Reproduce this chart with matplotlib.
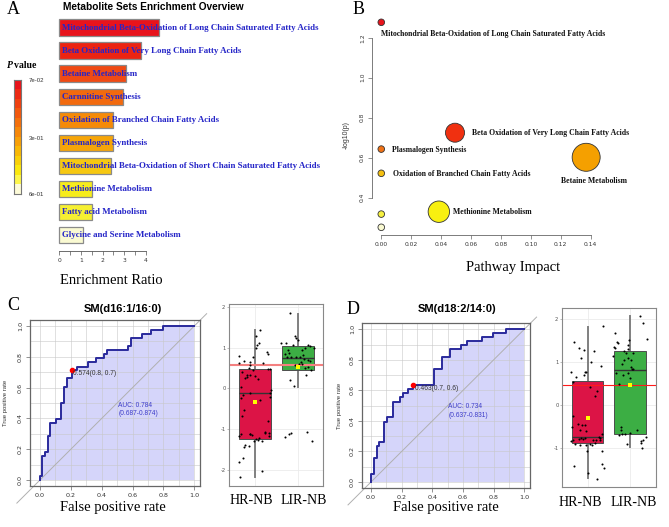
import numpy as np
import matplotlib
matplotlib.use("Agg")
import matplotlib.pyplot as plt
from matplotlib.colors import ListedColormap

SERIF = "Liberation Serif"
SANS = "Liberation Sans"

# ---- panel A: enrichment overview ----
pathways_A = [
    "Mitochondrial Beta-Oxidation of Long Chain Saturated Fatty Acids",
    "Beta Oxidation of Very Long Chain Fatty Acids",
    "Betaine Metabolism",
    "Carnnitine Synthesis",
    "Oxidation of Branched Chain Fatty Acids",
    "Plasmalogen Synthesis",
    "Mitochondrial Beta-Oxidation of Short Chain Saturated Fatty Acids",
    "Methionine Metabolism",
    "Fatty acid Metabolism",
    "Glycine and Serine Metabolism",
]
enrich_ratio = [4.58, 3.77, 3.06, 2.92, 2.46, 2.46, 2.38, 1.50, 1.50, 1.09]
bar_colors = ["#e8141c", "#ec2412", "#f04a14", "#f26a0e", "#f58a08", "#f6a508",
              "#f6c812", "#f6ec1c", "#f6f032", "#fafad2"]
cbar_colors = ["#e8141c", "#ec2a14", "#ef4010", "#f2580e", "#f4700c", "#f6880a",
               "#f7a008", "#f8b806", "#f9d008", "#fbe80e", "#fdf64a", "#fdfbd8"]
cbar_labels = ["7e-02", "3e-01", "6e-01"]

# ---- panel B: pathway impact ----
impact = [0.0, 0.0493, 0.0, 0.0, 0.137, 0.0385, 0.0, 0.0]
neglogp = [1.277, 0.725, 0.643, 0.522, 0.602, 0.330, 0.318, 0.252]
labels_B = ["Mitochondrial Beta-Oxidation of Long Chain Saturated Fatty Acids",
            "Beta Oxidation of Very Long Chain Fatty Acids",
            "Plasmalogen Synthesis",
            "Oxidation of Branched Chain Fatty Acids",
            "Betaine Metabolism",
            "Methionine Metabolism", "", ""]
colors_B = ["#e8141c", "#f03010", "#f07216", "#f5c010", "#f5a000", "#f8f010",
            "#f6f040", "#fafad2"]
radius_B = [3.3, 9.5, 3.3, 3.3, 14.0, 10.7, 3.3, 3.3]     # px
# label offsets (px): dx, dy(up), ha
lab_off_B = [(-0.6, -12, "left"), (17, 0, "left"), (10.7, -1, "left"),
             (11.7, -0.7, "left"), (8, -24, "center"), (14.3, 0, "left"),
             (0, 0, "left"), (0, 0, "left")]

# ---- panel C / D: ROC curves (step corners: fpr, tpr) ----
fpr_C = [0, 0, 0.015, 0.032, 0.054, 0.067, 0.104, 0.136, 0.153, 0.173, 0.205,
         0.242, 0.309, 0.363, 0.417, 0.436, 0.572, 0.587, 0.659, 0.717, 0.799, 1.0]
tpr_C = [0, 0.028, 0.158, 0.184, 0.288, 0.368, 0.394, 0.502, 0.606, 0.660, 0.714,
         0.736, 0.764, 0.790, 0.816, 0.844, 0.870, 0.920, 0.948, 0.974, 1.0, 1.0]
fpr_D = [0, 0, 0.020, 0.037, 0.054, 0.087, 0.104, 0.141, 0.191, 0.211, 0.243,
         0.272, 0.413, 0.465, 0.515, 0.587, 0.624, 0.722, 0.798, 0.878, 1.0]
tpr_D = [0, 0.052, 0.159, 0.238, 0.264, 0.395, 0.428, 0.526, 0.555, 0.581, 0.609,
         0.635, 0.740, 0.817, 0.871, 0.897, 0.926, 0.952, 0.978, 1.0, 1.0]
best_C = (0.205, 0.714, "0.574(0.8, 0.7)")
best_D = (0.276, 0.635, "0.463(0.7, 0.6)")
auc_C = "AUC: 0.784\n(0.687-0.874)"
auc_D = "AUC: 0.734\n(0.637-0.831)"

# ---- box plots ----
groups = ["HR-NB", "LIR-NB"]
box_C = dict(q1=[-1.24, 0.45], med=[-0.12, 0.75], q3=[0.48, 1.03],
             lo=[-2.17, 0.04], hi=[1.42, 1.83], mean=[-0.34, 0.53], cut=0.57)
box_D = dict(q1=[-0.89, -0.67], med=[-0.75, 0.81], q3=[0.55, 1.26],
             lo=[-1.70, -0.98], hi=[1.82, 2.07], mean=[-0.30, 0.47], cut=0.46)

c_hr_jit = [0.13, 0.03, 0.10, 0.05, 0.02, 0.28, 0.31, -0.37, -0.04, -0.25, -0.12, -0.36,
            0.19, -0.10, -0.14, 0.35, 0.32, -0.05, -0.30, -0.17, -0.10, 0.00, -0.18, -0.23,
            0.07, -0.33, -0.28, 0.35, -0.10, 0.36, -0.32, -0.25, -0.30, 0.30, 0.25, 0.33,
            -0.36, -0.33, -0.10, -0.06, -0.12, 0.23, 0.34, 0.04, 0.08, -0.02, 0.10, -0.22,
            -0.26, -0.14, 0.18, -0.27, -0.37, 0.18, -0.35, 0.38, 0.12]
c_hr_val = [1.42, 1.28, 1.11, 1.07, 0.99, 0.88, 0.85, 0.80, 0.77, 0.68, 0.65, 0.62,
            0.62, 0.57, 0.50, 0.47, 0.48, 0.45, 0.40, 0.33, 0.32, 0.30, 0.28, 0.26,
            0.22, 0.04, -0.15, -0.12, -0.12, -0.21, -0.24, -0.53, -0.67, -0.79, -1.07, -1.10,
            -1.17, -1.12, -1.12, -1.14, -1.11, -1.09, -1.16, -1.23, -1.26, -1.28, -1.22, -1.38,
            -1.43, -1.40, -1.30, -1.71, -1.80, -2.02, -2.17, -0.05, -0.28]
c_lir_jit = [-0.17, -0.07, -0.03, 0.00, -0.38, -0.27, -0.11, 0.24, 0.28, 0.38, 0.18, 0.10,
             -0.23, -0.29, -0.19, 0.12, -0.24, -0.15, -0.03, 0.05, 0.16, 0.24, 0.30, 0.07,
             0.10, 0.03, -0.07, 0.24, 0.18, 0.32, 0.20, -0.17, -0.09, -0.29, -0.16, -0.19,
             0.22, 0.34]
c_lir_val = [1.84, 1.28, 1.24, 1.19, 1.11, 1.10, 1.06, 1.07, 1.04, 1.00, 0.98, 0.93,
             0.95, 0.85, 0.87, 0.81, 0.76, 0.77, 0.76, 0.77, 0.73, 0.69, 0.67, 0.65,
             0.61, 0.61, 0.57, 0.53, 0.49, 0.45, 0.32, 0.20, 0.06, -1.20, -1.10, -1.12,
             -1.07, -1.28]
d_hr_jit = [0.37, -0.31, -0.20, -0.08, 0.16, -0.15, 0.08, 0.31, -0.38, -0.05, -0.03, -0.08,
            -0.26, -0.33, 0.06, 0.22, 0.17, -0.33, -0.23, -0.12, -0.05, -0.37, -0.17, -0.03,
            0.34, 0.27, 0.30, -0.15, -0.10, -0.20, -0.05, -0.33, -0.38, 0.12, 0.20, 0.30,
            -0.30, -0.17, -0.03, 0.05, 0.10, 0.18, -0.01, 0.33, -0.31, 0.34, 0.39, 0.02, 0.23]
d_hr_val = [1.84, 1.46, 1.33, 1.28, 1.26, 1.09, 1.01, 0.91, 0.78, 0.77, 0.76, 0.70,
            0.66, 0.53, 0.43, 0.33, 0.22, -0.25, -0.43, -0.47, -0.46, -0.50, -0.57, -0.60,
            -0.66, -0.74, -0.77, -0.76, -0.78, -0.79, -0.77, -0.80, -0.84, -0.80, -0.82, -0.80,
            -0.90, -0.93, -0.92, -0.91, -0.93, -0.87, -1.07, -1.07, -1.41, -1.37, -1.46, -1.57, -1.72]
d_lir_jit = [0.23, 0.31, 0.39, -0.35, -0.31, -0.28, -0.02, -0.04, -0.37, -0.35, -0.04, -0.15,
             -0.10, 0.06, -0.39, -0.04, 0.03, -0.13, -0.19, 0.02, 0.04, 0.08, -0.04, -0.33,
             -0.16, 0.00, -0.27, -0.22, -0.22, -0.27, -0.20, -0.12, 0.00, 0.17, -0.08, 0.38,
             0.31, 0.27, 0.25, 0.29]
d_lir_val = [2.07, 1.90, 1.53, 1.67, 1.47, 1.45, 1.51, 1.40, 1.35, 1.33, 1.30, 1.25,
             1.20, 1.20, 1.14, 1.10, 1.05, 1.05, 0.95, 0.89, 0.85, 0.84, 0.74, 0.74,
             0.70, 0.62, 0.49, -0.52, -0.58, -0.70, -0.68, -0.68, -0.64, -0.58, -0.91, -0.75,
             -0.80, -0.83, -0.89, -0.99]

W, H = 669, 527
fig = plt.figure(figsize=(W / 100, H / 100), dpi=100)
fig.patch.set_facecolor("white")


def add_ax(l, t, r, b):
    return fig.add_axes([l / W, 1 - b / H, (r - l) / W, (b - t) / H])


def ftext(x, y, s, **kw):
    return fig.text(x / W, 1 - y / H, s, **kw)


# ================= A =================
ftext(7, 10, "A", family=SERIF, fontsize=13, va="center")
ftext(153.5, 7, "Metabolite Sets Enrichment Overview", family=SANS, fontweight="bold",
      fontsize=7.3, ha="center", va="center")
axA = add_ax(59.3, 16, 146, 250.7)
rows = np.arange(len(pathways_A))
axA.barh(-rows, enrich_ratio, height=0.7, color=bar_colors, edgecolor="#8a8a8a",
         linewidth=0.9, clip_on=False)
for i, name in enumerate(pathways_A):
    axA.text(0.12, -i, name, color="#2626c8", fontweight="bold", family=SERIF,
             fontsize=6.4, va="center", ha="left", clip_on=False)
axA.set_xlim(0, 4)
axA.set_ylim(-9.695, 0.5)
for s in ["top", "right", "left"]:
    axA.spines[s].set_visible(False)
axA.spines["bottom"].set_color("#555555")
axA.spines["bottom"].set_linewidth(0.6)
axA.set_yticks([])
axA.set_xticks(range(5))
axA.set_xticks(np.arange(0, 4.01, 0.5), minor=True)
axA.tick_params(axis="x", which="both", length=3, width=0.5, color="#555555",
                labelsize=4.3, labelcolor="#333333", pad=2)
ftext(111, 280, "Enrichment Ratio", family=SERIF, fontsize=10.5, ha="center", va="center")

# colour key
axCb = add_ax(14, 80, 21, 194)
axCb.imshow(np.arange(len(cbar_colors)).reshape(-1, 1), cmap=ListedColormap(cbar_colors),
            aspect="auto", interpolation="nearest")
axCb.set_xticks([])
axCb.set_yticks([])
for s in axCb.spines.values():
    s.set_color("#777777")
    s.set_linewidth(0.8)
for lab, yy in zip(cbar_labels, [80, 138, 195]):
    ftext(29, yy, lab, family=SANS, fontsize=4.3, color="#333333", va="center")
ftext(7, 66, "P", family=SERIF, fontsize=7, fontweight="bold", style="italic", va="center")
ftext(14.5, 66, "value", family=SERIF, fontsize=7, fontweight="bold", va="center")

# ================= B =================
ftext(353, 10, "B", family=SERIF, fontsize=13, va="center")
axB = add_ax(372, 15, 640, 235)
sizes_B = [(2 * r * 0.72) ** 2 for r in radius_B]
axB.scatter(impact, neglogp, s=sizes_B, c=colors_B, edgecolors="#333333",
            linewidths=0.6, zorder=3, clip_on=False)
for x, y, lab, (dx, dy, ha) in zip(impact, neglogp, labels_B, lab_off_B):
    if lab:
        axB.annotate(lab, (x, y), xytext=(dx * 0.72, dy * 0.72), textcoords="offset points",
                     ha=ha, va="center", family=SERIF, fontweight="bold", fontsize=5.6,
                     color="#111111", annotation_clip=False)
axB.set_xlim(-0.0062, 0.173)
axB.set_ylim(0.2135, 1.3135)
for s in ["top", "right"]:
    axB.spines[s].set_visible(False)
axB.spines["left"].set_bounds(0.4, 1.2)
axB.spines["bottom"].set_bounds(0, 0.14)
for s in ["left", "bottom"]:
    axB.spines[s].set_color("#666666")
    axB.spines[s].set_linewidth(0.6)
xt = np.arange(0, 0.141, 0.02)
axB.set_xticks(xt)
axB.set_xticklabels(["%.2f" % v for v in xt])
yt = [0.4, 0.6, 0.8, 1.0, 1.2]
axB.set_yticks(yt)
axB.set_yticklabels(["%.1f" % v for v in yt], rotation=90, va="center")
axB.tick_params(length=3, width=0.5, color="#666666", labelsize=4.3,
                labelcolor="#333333", pad=2)
ftext(346, 135, "-log10(p)", family=SANS, fontsize=5, color="#333333", rotation=90,
      ha="center", va="center")
ftext(513, 268, "Pathway Impact", family=SERIF, fontsize=10.5, ha="center", va="center")


# ================= ROC panels =================
def roc_panel(frame, title, title_xy, fpr, tpr, best, auc, auc_xy, letter_xy, letter,
              ylab_x, xlab_x):
    l, t, r, b, x0, x1, y0, y1 = frame
    ax = add_ax(l, t, r, b)
    ax.set_xlim((l - x0) / (x1 - x0), (r - x0) / (x1 - x0))
    ax.set_ylim((y0 - b) / (y0 - y1), (y0 - t) / (y0 - y1))
    ax.fill_between(fpr, tpr, 0, step="post", color="#d5d5fa", linewidth=0, zorder=1)
    for g in np.arange(0, 1.01, 0.1):
        ax.axvline(g, color="#c8c8c8", lw=0.5, alpha=0.8, zorder=1.5)
        ax.axhline(g, color="#c8c8c8", lw=0.5, alpha=0.8, zorder=1.5)
    ax.plot([-0.15, 1.08], [-0.15, 1.08], color="#b0b0b0", lw=0.7, zorder=1.6,
            clip_on=False)
    ax.step(fpr, tpr, where="post", color="#2a2a9c", lw=1.4, zorder=3)
    bx, by, btxt = best
    ax.plot([bx], [by], "o", color="red", ms=3, zorder=4)
    ax.text(bx + 0.01, by - 0.025, btxt, fontsize=4.8, family=SANS, color="#333333",
            va="center", ha="left", zorder=5)
    ax.text(auc_xy[0], auc_xy[1], auc, fontsize=4.8, family=SANS, color="#3d3dc8",
            va="center", ha="left", linespacing=1.3, zorder=5)
    for s in ax.spines.values():
        s.set_color("#666666")
        s.set_linewidth(0.9)
    tk = np.arange(0, 1.01, 0.2)
    ax.set_xticks(tk)
    ax.set_xticklabels(["%.1f" % v for v in tk])
    ax.set_yticks(tk)
    ax.set_yticklabels(["%.1f" % v for v in tk], rotation=90, va="center")
    ax.tick_params(length=3, width=0.5, color="#666666", labelsize=4.6,
                   labelcolor="#333333", pad=2)
    ftext(title_xy[0], title_xy[1], title, family=SANS, fontweight="bold", fontsize=8,
          ha="center", va="center")
    ftext(letter_xy[0], letter_xy[1], letter, family=SERIF, fontsize=13, va="center")
    ftext(ylab_x, (t + b) / 2, "True positive rate", family=SANS, fontsize=4.3,
          color="#333333", rotation=90, ha="center", va="center")
    ftext(xlab_x, 507, "False positive rate", family=SERIF, fontsize=10.5,
          ha="center", va="center")
    return ax


roc_panel((30, 319.5, 199.5, 486, 40, 194.3, 480, 326), "SM(d16:1/16:0)", (122.5, 309.5),
          fpr_C, tpr_C, best_C, auc_C, (0.507, 0.458), (7, 305), "C", 6, 112.5)
roc_panel((362, 322.7, 530, 488.3, 371, 524.3, 482, 329.3), "SM(d18:2/14:0)", (456.7, 309.5),
          fpr_D, tpr_D, best_D, auc_D, (0.504, 0.464), (347, 310), "D", 339, 446)


# ================= box panels =================
def box_panel(frame, ylim, st, hr, lir, cut_color, cut_lw, yticks, lab_x, lab_y):
    l, t, r, b = frame
    ax = add_ax(l, t, r, b)
    ax.set_xlim(0.4, 2.6)
    ax.set_ylim(*ylim)
    for yv in yticks:
        ax.axhline(yv, color="#ebebeb", lw=0.6, zorder=0)
    for xv in [1, 2]:
        ax.axvline(xv, color="#ebebeb", lw=0.6, zorder=0)
    stats = []
    for i in range(2):
        stats.append(dict(med=st["med"][i], q1=st["q1"][i], q3=st["q3"][i],
                          whislo=st["lo"][i], whishi=st["hi"][i], fliers=[]))
    bp = ax.bxp(stats, positions=[1, 2], widths=0.75, patch_artist=True, showcaps=False,
                showfliers=False,
                boxprops=dict(edgecolor="#4d4d4d", linewidth=0.7),
                medianprops=dict(color="#333333", linewidth=1.0),
                whiskerprops=dict(color="#808080", linewidth=1.4))
    for patch, fc in zip(bp["boxes"], ["#dc1446", "#3cae44"]):
        patch.set_facecolor(fc)
        patch.set_zorder(2)
    for w in bp["whiskers"]:
        w.set_zorder(1)
    ax.axhline(st["cut"], color=cut_color, lw=cut_lw, zorder=2.5)
    ax.scatter(1 + np.array(hr[0]), hr[1], s=2.2, c="black", zorder=4, linewidths=0)
    ax.scatter(2 + np.array(lir[0]), lir[1], s=2.2, c="black", zorder=4, linewidths=0)
    ax.scatter([1, 2], st["mean"], s=5, marker="s", c="#ffff00", zorder=5, linewidths=0)
    ax.set_xticks([])
    ax.set_yticks(yticks)
    ax.set_yticklabels([str(v) for v in yticks])
    ax.tick_params(axis="y", length=1.5, width=0.4, color="#888888", labelsize=3.8,
                   labelcolor="#555555", pad=1)
    for s in ax.spines.values():
        s.set_color("#888888")
        s.set_linewidth(0.8)
    for g, x in zip(groups, lab_x):
        ftext(x, lab_y, g, family=SERIF, fontsize=10, ha="center", va="center")
    return ax


box_panel((229, 304.3, 323.3, 486), (-2.39, 2.06), box_C, (c_hr_jit, c_hr_val),
          (c_lir_jit, c_lir_val), "#f48080", 1.5, [-2, -1, 0, 1, 2], [251, 303.7], 500)
box_panel((562, 308.3, 655.5, 487.3), (-1.91, 2.25), box_D, (d_hr_jit, d_hr_val),
          (d_lir_jit, d_lir_val), "#ff1a1a", 0.8, [-1, 0, 1, 2], [580.5, 633.3], 502.5)

fig.savefig("out.png", dpi=100)
